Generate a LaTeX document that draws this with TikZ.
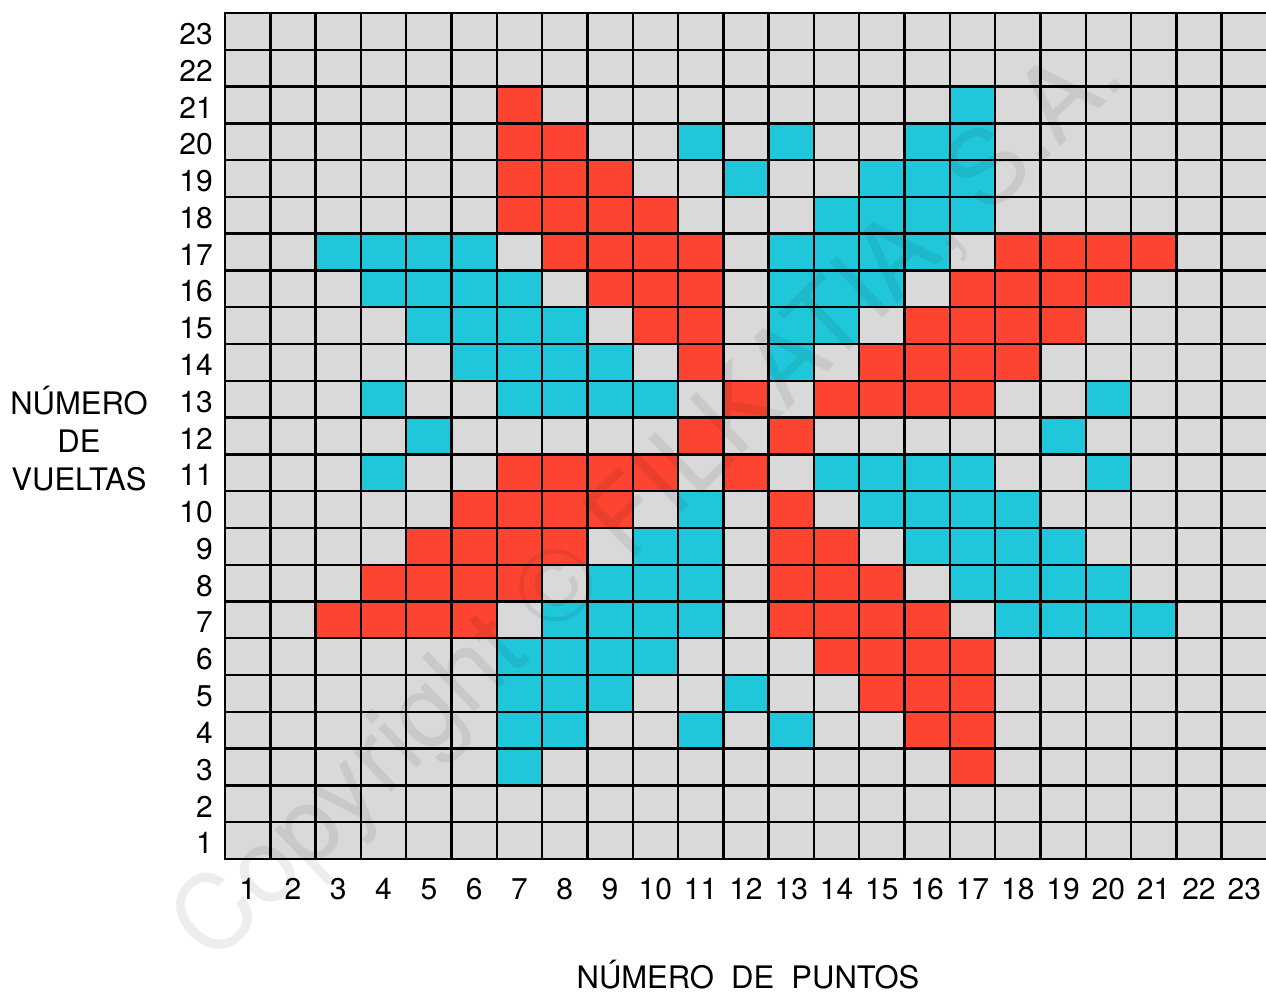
\documentclass[tikz,border=0pt]{standalone}
\usepackage{fontspec}
\setmainfont{TeX Gyre Heros}
\definecolor{cellgrey}{HTML}{D9D9D9}
\definecolor{cellred}{HTML}{FC4431}
\definecolor{cellcyan}{HTML}{20C7DA}
\tikzset{
  gridline/.style={black, line width=2.4pt},
  redcell/.style={fill=cellred},
  cyancell/.style={fill=cellcyan},
  numlbl/.style={inner sep=0pt, font=\fontsize{30}{32}\selectfont},
  axislbl/.style={inner sep=0pt, align=center, font=\fontsize{31}{38}\selectfont},
  watermark/.style={inner sep=0pt, text=black, text opacity=0.07, font=\fontsize{104}{110}\selectfont}
}
\begin{document}
\begin{tikzpicture}[x=1pt,y=-1pt]
\useasboundingbox (0,0) rectangle (1266,995);
\fill[white] (0,0) rectangle (1266,995);
% base grid
\fill[cellgrey] (225,13) rectangle (1267,859);
% red cells
\foreach \r/\cl in {21/{7},20/{7,8},19/{7,8,9},18/{7,8,9,10},
  17/{8,9,10,11,18,19,20,21},16/{9,10,11,17,18,19,20},15/{10,11,16,17,18,19},
  14/{11,15,16,17,18},13/{12,14,15,16,17},12/{11,13},11/{7,8,9,10,12},
  10/{6,7,8,9,13},9/{5,6,7,8,13,14},8/{4,5,6,7,13,14,15},7/{3,4,5,6,13,14,15,16},
  6/{14,15,16,17},5/{15,16,17},4/{16,17},3/{17}}{
  \foreach \c in \cl {
    \fill[redcell] ({225+45.3*(\c-1)},{13+36.78*(23-\r)}) rectangle ++(45.3,36.78);
  }
}
% cyan cells
\foreach \r/\cl in {21/{17},20/{11,13,16,17},19/{12,15,16,17},18/{14,15,16,17},
  17/{3,4,5,6,13,14,15,16},16/{4,5,6,7,13,14,15},15/{5,6,7,8,13,14},
  14/{6,7,8,9,13},13/{4,7,8,9,10,20},12/{5,19},11/{4,14,15,16,17,20},
  10/{11,15,16,17,18},9/{10,11,16,17,18,19},8/{9,10,11,17,18,19,20},
  7/{8,9,10,11,18,19,20,21},6/{7,8,9,10},5/{7,8,9,12},4/{7,8,11,13},3/{7}}{
  \foreach \c in \cl {
    \fill[cyancell] ({225+45.3*(\c-1)},{13+36.78*(23-\r)}) rectangle ++(45.3,36.78);
  }
}
% watermark
\node[watermark, rotate=44] (wm) at (652,503) {Copyright © FILKATIA, S.A.};
% grid lines
\foreach \i in {0,...,23}{
  \draw[gridline] ({225+45.3*\i},13) -- ({225+45.3*\i},859);
  \draw[gridline] (224,{13+36.78*\i}) -- (1267,{13+36.78*\i});
}
% row numbers
\foreach \r in {1,...,23}{
  \node[numlbl, anchor=east] (row\r) at (213,{13+36.78*(23-\r)+21}) {\r};
}
% column numbers
\foreach \c in {1,...,23}{
  \node[numlbl] (col\c) at ({225+45.3*(\c-0.5)},889) {\c};
}
% axis labels
\node[axislbl] (vueltas) at (79,439) {NÚMERO\\DE\\VUELTAS};
\node[axislbl] (puntos) at (748,975) {NÚMERO\ \ DE\ \ PUNTOS};
\end{tikzpicture}
\end{document}
